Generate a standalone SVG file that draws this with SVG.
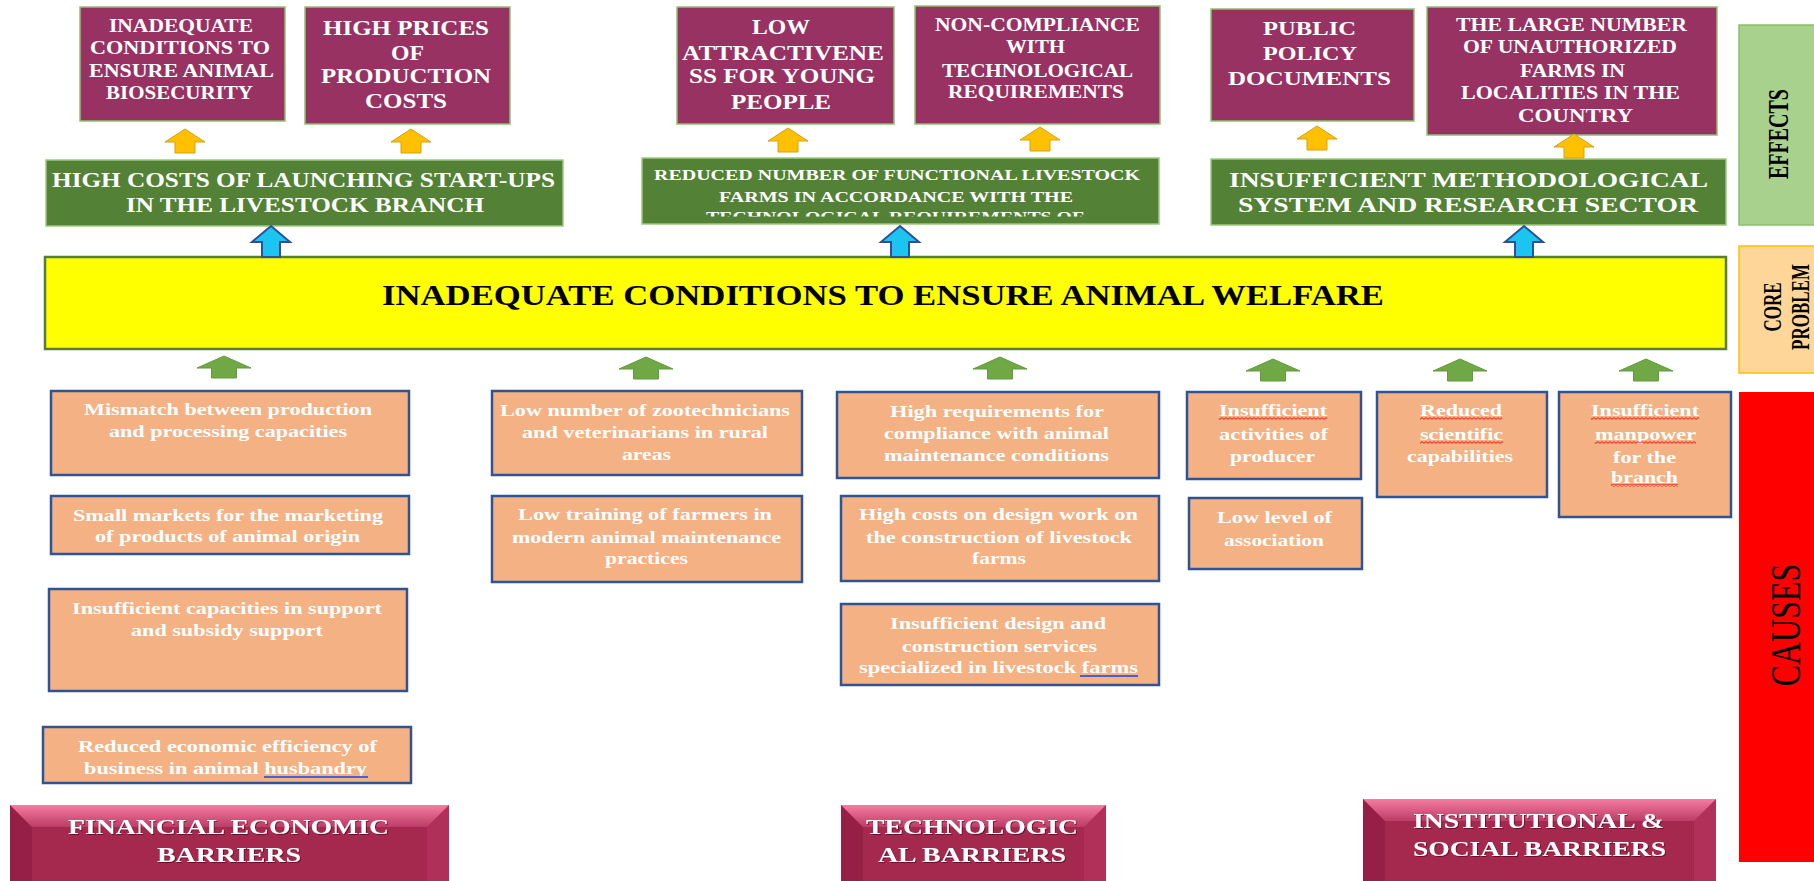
<svg xmlns="http://www.w3.org/2000/svg" width="1814" height="881" viewBox="0 0 1814 881">
  <defs>
    <style>
      text { font-family: 'Liberation Serif', 'Times New Roman', serif; font-weight: bold; }
      .eff rect { fill: #973263; stroke: #8dc26f; stroke-width: 1.5; }
      .eff text { fill: #ffffff; }
      .mid rect { fill: #538135; stroke: #9dc97f; stroke-width: 1.5; }
      .mid text { fill: #ffffff; }
      .core rect { fill: #ffff00; stroke: #5a7d36; stroke-width: 2.5; }
      .core text { fill: #000000; font-size: 30px; }
      .cause rect { fill: #f4b183; stroke: #2f5496; stroke-width: 2.5; }
      .cause text { fill: #ffffff; font-size: 17px; }
      .cause rect.squig { fill: url(#squig); stroke: none; }
      .barrier .face { fill: #a5284f; }
      .barrier .left { fill: #951f47; }
      .barrier .right { fill: #b0305a; }
      .barrier .top { fill: url(#bevTop); }
      .barrier text { fill: #ffffff; font-size: 22px; filter: url(#tshadow); }
      .label text { text-anchor: middle; }
      .uline { stroke: #4a5fd0; stroke-width: 2; }
      .arrY { fill: #ffc000; stroke: #d4a017; stroke-width: 1; }
      .arrB { fill: #1bc5f0; stroke: #2e4f9a; stroke-width: 2; }
      .arrG { fill: #6fa844; stroke: #639a3c; stroke-width: 1; }
    </style>
    <linearGradient id="bevTop" x1="0" y1="0" x2="0" y2="1">
      <stop offset="0" stop-color="#f57ca2"/>
      <stop offset="1" stop-color="#bc3c65"/>
    </linearGradient>
    <pattern id="squig" patternUnits="userSpaceOnUse" width="4" height="3">
      <path d="M0,2.4 L2,0.6 L4,2.4" fill="none" stroke="#e01010" stroke-width="1"/>
    </pattern>
    <filter id="tshadow" x="-5%" y="-20%" width="110%" height="140%">
      <feDropShadow dx="1" dy="1" stdDeviation="0.6" flood-color="#3a0010" flood-opacity="0.6"/>
    </filter>
    <clipPath id="g2clip">
      <rect x="642" y="158" width="517" height="58.5"/>
    </clipPath>
    <!-- block arrows, tip at the origin, pointing up -->
    <path id="arrowY" d="M0,0 L20,13 L10,13 L10,24 L-10,24 L-10,13 L-20,13 Z"/>
    <path id="arrowB" d="M0,0 L19,16 L9,16 L9,31 L-9,31 L-9,16 L-19,16 Z"/>
    <path id="arrowG" d="M0,0 L27,12 L12.5,12 L12.5,22 L-12.5,22 L-12.5,12 L-27,12 Z"/>
  </defs>

  <rect x="0" y="0" width="1814" height="881" fill="#ffffff"/>

  <!-- ===== effects ===== -->
  <g id="effect-biosecurity" class="eff">
    <rect x="80" y="7" width="205" height="114"/>
    <text x="109" y="32" font-size="19" textLength="144" lengthAdjust="spacingAndGlyphs">INADEQUATE</text>
    <text x="90" y="54" font-size="19" textLength="180" lengthAdjust="spacingAndGlyphs">CONDITIONS TO</text>
    <text x="89" y="77" font-size="19" textLength="185" lengthAdjust="spacingAndGlyphs">ENSURE ANIMAL</text>
    <text x="106" y="99" font-size="19" textLength="147" lengthAdjust="spacingAndGlyphs">BIOSECURITY</text>
  </g>
  <g id="effect-prices" class="eff">
    <rect x="305" y="7" width="205" height="117"/>
    <text x="323" y="35" font-size="20" textLength="166" lengthAdjust="spacingAndGlyphs">HIGH PRICES</text>
    <text x="391" y="60" font-size="20" textLength="33" lengthAdjust="spacingAndGlyphs">OF</text>
    <text x="321" y="83" font-size="20" textLength="170" lengthAdjust="spacingAndGlyphs">PRODUCTION</text>
    <text x="365" y="108" font-size="20" textLength="82" lengthAdjust="spacingAndGlyphs">COSTS</text>
  </g>
  <g id="effect-young" class="eff">
    <rect x="677" y="7" width="217" height="117"/>
    <text x="752" y="34" font-size="20" textLength="58" lengthAdjust="spacingAndGlyphs">LOW</text>
    <text x="682" y="60" font-size="20" textLength="202" lengthAdjust="spacingAndGlyphs">ATTRACTIVENE</text>
    <text x="689" y="83" font-size="20" textLength="186" lengthAdjust="spacingAndGlyphs">SS FOR YOUNG</text>
    <text x="731" y="109" font-size="20" textLength="100" lengthAdjust="spacingAndGlyphs">PEOPLE</text>
  </g>
  <g id="effect-noncompliance" class="eff">
    <rect x="915" y="6" width="245" height="118"/>
    <text x="935" y="31" font-size="18" textLength="205" lengthAdjust="spacingAndGlyphs">NON-COMPLIANCE</text>
    <text x="1006" y="53" font-size="18" textLength="59" lengthAdjust="spacingAndGlyphs">WITH</text>
    <text x="942" y="77" font-size="18" textLength="191" lengthAdjust="spacingAndGlyphs">TECHNOLOGICAL</text>
    <text x="948" y="98" font-size="18" textLength="176" lengthAdjust="spacingAndGlyphs">REQUIREMENTS</text>
  </g>
  <g id="effect-policy" class="eff">
    <rect x="1211" y="9" width="203" height="112"/>
    <text x="1263" y="35" font-size="19" textLength="93" lengthAdjust="spacingAndGlyphs">PUBLIC</text>
    <text x="1263" y="60" font-size="19" textLength="94" lengthAdjust="spacingAndGlyphs">POLICY</text>
    <text x="1228" y="85" font-size="19" textLength="163" lengthAdjust="spacingAndGlyphs">DOCUMENTS</text>
  </g>
  <g id="effect-unauthorized" class="eff">
    <rect x="1427" y="7" width="290" height="128"/>
    <text x="1456" y="31" font-size="18" textLength="231" lengthAdjust="spacingAndGlyphs">THE LARGE NUMBER</text>
    <text x="1463" y="53" font-size="18" textLength="214" lengthAdjust="spacingAndGlyphs">OF UNAUTHORIZED</text>
    <text x="1520" y="77" font-size="18" textLength="105" lengthAdjust="spacingAndGlyphs">FARMS IN</text>
    <text x="1461" y="99" font-size="18" textLength="219" lengthAdjust="spacingAndGlyphs">LOCALITIES IN THE</text>
    <text x="1518" y="122" font-size="18" textLength="115" lengthAdjust="spacingAndGlyphs">COUNTRY</text>
  </g>

  <!-- ===== intermediate effects ===== -->
  <g id="mid-startups" class="mid">
    <rect x="46" y="160" width="517" height="66"/>
    <text x="52" y="187" font-size="20" textLength="503" lengthAdjust="spacingAndGlyphs">HIGH COSTS OF LAUNCHING START-UPS</text>
    <text x="126" y="212" font-size="20" textLength="358" lengthAdjust="spacingAndGlyphs">IN THE LIVESTOCK BRANCH</text>
  </g>
  <g id="mid-farms" class="mid">
    <rect x="642" y="158" width="517" height="66"/>
    <g clip-path="url(#g2clip)">
      <text x="654" y="180" font-size="14.5" textLength="486" lengthAdjust="spacingAndGlyphs">REDUCED NUMBER OF FUNCTIONAL LIVESTOCK</text>
      <text x="719" y="202" font-size="14.5" textLength="354" lengthAdjust="spacingAndGlyphs">FARMS IN ACCORDANCE WITH THE</text>
      <text x="706" y="222" font-size="14.5" textLength="378" lengthAdjust="spacingAndGlyphs">TECHNOLOGICAL REQUIREMENTS OF</text>
    </g>
  </g>
  <g id="mid-research" class="mid">
    <rect x="1211" y="159" width="515" height="66"/>
    <text x="1229" y="187" font-size="20" textLength="479" lengthAdjust="spacingAndGlyphs">INSUFFICIENT METHODOLOGICAL</text>
    <text x="1238" y="212" font-size="20" textLength="460" lengthAdjust="spacingAndGlyphs">SYSTEM AND RESEARCH SECTOR</text>
  </g>

  <!-- ===== core problem ===== -->
  <g id="core-problem" class="core">
    <rect x="45" y="257" width="1681" height="92"/>
    <text x="382" y="305" textLength="1002" lengthAdjust="spacingAndGlyphs">INADEQUATE CONDITIONS TO ENSURE ANIMAL WELFARE</text>
  </g>

  <!-- ===== causes ===== -->
  <g id="cause-mismatch" class="cause">
    <rect x="51" y="391" width="358" height="84"/>
    <text x="84" y="415" textLength="288" lengthAdjust="spacingAndGlyphs">Mismatch between production</text>
    <text x="109" y="437" textLength="238" lengthAdjust="spacingAndGlyphs">and processing capacities</text>
  </g>
  <g id="cause-markets" class="cause">
    <rect x="51" y="496" width="358" height="58"/>
    <text x="73" y="521" textLength="310" lengthAdjust="spacingAndGlyphs">Small markets for the marketing</text>
    <text x="95" y="542" textLength="265" lengthAdjust="spacingAndGlyphs">of products of animal origin</text>
  </g>
  <g id="cause-subsidy" class="cause">
    <rect x="49" y="589" width="358" height="102"/>
    <text x="72" y="614" textLength="310" lengthAdjust="spacingAndGlyphs">Insufficient capacities in support</text>
    <text x="131" y="636" textLength="192" lengthAdjust="spacingAndGlyphs">and subsidy support</text>
  </g>
  <g id="cause-efficiency" class="cause">
    <rect x="43" y="727" width="368" height="56"/>
    <text x="78" y="752" textLength="299" lengthAdjust="spacingAndGlyphs">Reduced economic efficiency of</text>
    <text x="84" y="774" textLength="283" lengthAdjust="spacingAndGlyphs">business in animal husbandry</text>
    <line class="uline" x1="264" y1="777" x2="368" y2="777"/>
  </g>
  <g id="cause-zootechnicians" class="cause">
    <rect x="492" y="391" width="310" height="84"/>
    <text x="500" y="416" textLength="290" lengthAdjust="spacingAndGlyphs">Low number of zootechnicians</text>
    <text x="522" y="438" textLength="246" lengthAdjust="spacingAndGlyphs">and veterinarians in rural</text>
    <text x="622" y="460" textLength="49" lengthAdjust="spacingAndGlyphs">areas</text>
  </g>
  <g id="cause-training" class="cause">
    <rect x="492" y="496" width="310" height="86"/>
    <text x="518" y="520" textLength="254" lengthAdjust="spacingAndGlyphs">Low training of farmers in</text>
    <text x="512" y="543" textLength="269" lengthAdjust="spacingAndGlyphs">modern animal maintenance</text>
    <text x="605" y="564" textLength="83" lengthAdjust="spacingAndGlyphs">practices</text>
  </g>
  <g id="cause-requirements" class="cause">
    <rect x="837" y="392" width="322" height="86"/>
    <text x="890" y="417" textLength="214" lengthAdjust="spacingAndGlyphs">High requirements for</text>
    <text x="884" y="439" textLength="225" lengthAdjust="spacingAndGlyphs">compliance with animal</text>
    <text x="884" y="461" textLength="225" lengthAdjust="spacingAndGlyphs">maintenance conditions</text>
  </g>
  <g id="cause-design-costs" class="cause">
    <rect x="841" y="496" width="318" height="85"/>
    <text x="859" y="520" textLength="279" lengthAdjust="spacingAndGlyphs">High costs on design work on</text>
    <text x="866" y="543" textLength="266" lengthAdjust="spacingAndGlyphs">the construction of livestock</text>
    <text x="972" y="564" textLength="54" lengthAdjust="spacingAndGlyphs">farms</text>
  </g>
  <g id="cause-design-services" class="cause">
    <rect x="841" y="604" width="318" height="81"/>
    <text x="890" y="629" textLength="216" lengthAdjust="spacingAndGlyphs">Insufficient design and</text>
    <text x="902" y="652" textLength="195" lengthAdjust="spacingAndGlyphs">construction services</text>
    <text x="859" y="673" textLength="279" lengthAdjust="spacingAndGlyphs">specialized in livestock farms</text>
    <line class="uline" x1="1080" y1="676" x2="1138" y2="676"/>
  </g>
  <g id="cause-producer" class="cause">
    <rect x="1187" y="392" width="174" height="87"/>
    <text x="1219" y="416" textLength="108" lengthAdjust="spacingAndGlyphs">Insufficient</text>
    <rect class="squig" x="1219" y="417" width="108" height="3"/>
    <text x="1219" y="440" textLength="109" lengthAdjust="spacingAndGlyphs">activities of</text>
    <text x="1230" y="462" textLength="85" lengthAdjust="spacingAndGlyphs">producer</text>
  </g>
  <g id="cause-association" class="cause">
    <rect x="1189" y="498" width="173" height="71"/>
    <text x="1217" y="523" textLength="115" lengthAdjust="spacingAndGlyphs">Low level of</text>
    <text x="1224" y="546" textLength="100" lengthAdjust="spacingAndGlyphs">association</text>
  </g>
  <g id="cause-scientific" class="cause">
    <rect x="1377" y="392" width="170" height="105"/>
    <text x="1420" y="416" textLength="82" lengthAdjust="spacingAndGlyphs">Reduced</text>
    <rect class="squig" x="1420" y="417" width="82" height="3"/>
    <text x="1420" y="440" textLength="83" lengthAdjust="spacingAndGlyphs">scientific</text>
    <rect class="squig" x="1420" y="441" width="83" height="3"/>
    <text x="1407" y="462" textLength="106" lengthAdjust="spacingAndGlyphs">capabilities</text>
  </g>
  <g id="cause-manpower" class="cause">
    <rect x="1559" y="392" width="172" height="125"/>
    <text x="1591" y="416" textLength="108" lengthAdjust="spacingAndGlyphs">Insufficient</text>
    <rect class="squig" x="1591" y="417" width="108" height="3"/>
    <text x="1595" y="440" textLength="101" lengthAdjust="spacingAndGlyphs">manpower</text>
    <rect class="squig" x="1595" y="441" width="101" height="3"/>
    <text x="1613" y="463" textLength="63" lengthAdjust="spacingAndGlyphs">for the</text>
    <text x="1611" y="483" textLength="67" lengthAdjust="spacingAndGlyphs">branch</text>
    <rect class="squig" x="1611" y="484" width="67" height="3"/>
  </g>

  <!-- ===== barrier categories (bevelled) ===== -->
  <g id="barrier-financial" class="barrier">
    <rect class="face" x="10" y="805" width="439" height="90"/>
    <polygon class="left" points="10,805 32,827 32,895 10,895"/>
    <polygon class="right" points="449,805 427,827 427,895 449,895"/>
    <polygon class="top" points="10,805 449,805 427,827 32,827"/>
    <text x="68" y="834" textLength="321" lengthAdjust="spacingAndGlyphs">FINANCIAL ECONOMIC</text>
    <text x="157" y="862" textLength="144" lengthAdjust="spacingAndGlyphs">BARRIERS</text>
  </g>
  <g id="barrier-technological" class="barrier">
    <rect class="face" x="841" y="805" width="265" height="90"/>
    <polygon class="left" points="841,805 863,827 863,895 841,895"/>
    <polygon class="right" points="1106,805 1084,827 1084,895 1106,895"/>
    <polygon class="top" points="841,805 1106,805 1084,827 863,827"/>
    <text x="866" y="834" textLength="212" lengthAdjust="spacingAndGlyphs">TECHNOLOGIC</text>
    <text x="878" y="862" textLength="188" lengthAdjust="spacingAndGlyphs">AL BARRIERS</text>
  </g>
  <g id="barrier-institutional" class="barrier">
    <rect class="face" x="1363" y="799" width="353" height="96"/>
    <polygon class="left" points="1363,799 1385,821 1385,895 1363,895"/>
    <polygon class="right" points="1716,799 1694,821 1694,895 1716,895"/>
    <polygon class="top" points="1363,799 1716,799 1694,821 1385,821"/>
    <text x="1413" y="828" textLength="251" lengthAdjust="spacingAndGlyphs">INSTITUTIONAL &amp;</text>
    <text x="1413" y="856" textLength="253" lengthAdjust="spacingAndGlyphs">SOCIAL BARRIERS</text>
  </g>

  <!-- ===== level labels on the right ===== -->
  <g id="label-effects" class="label">
    <rect x="1739" y="25" width="80" height="200" fill="#a9d18e" stroke="#8fbf6c" stroke-width="1.5"/>
    <text transform="translate(1788 134) scale(1.5 1) rotate(-90)" font-size="20" fill="#000000">EFFECTS</text>
  </g>
  <g id="label-core" class="label">
    <rect x="1739" y="246" width="80" height="127" fill="#ffd699" stroke="#ffc000" stroke-width="1.5"/>
    <text transform="translate(1781 307) scale(1.5 1) rotate(-90)" font-size="17" fill="#000000">CORE</text>
    <text transform="translate(1809 307) scale(1.5 1) rotate(-90)" font-size="17" fill="#000000">PROBLEM</text>
  </g>
  <g id="label-causes" class="label">
    <rect x="1739" y="392" width="80" height="470" fill="#ff0000"/>
    <text transform="translate(1800 625) scale(1.3 1) rotate(-90)" font-size="32" style="font-weight:normal" fill="#000000">CAUSES</text>
  </g>

  <!-- ===== connectors ===== -->
  <g id="connectors">
    <use href="#arrowY" class="arrY" x="185" y="129"/>
    <use href="#arrowY" class="arrY" x="411" y="129"/>
    <use href="#arrowY" class="arrY" x="788" y="128"/>
    <use href="#arrowY" class="arrY" x="1040" y="127"/>
    <use href="#arrowY" class="arrY" x="1317" y="126"/>
    <use href="#arrowY" class="arrY" x="1574" y="134"/>
    <use href="#arrowB" class="arrB" x="271" y="226"/>
    <use href="#arrowB" class="arrB" x="900" y="226"/>
    <use href="#arrowB" class="arrB" x="1524" y="226"/>
    <use href="#arrowG" class="arrG" x="224" y="356"/>
    <use href="#arrowG" class="arrG" x="646" y="357"/>
    <use href="#arrowG" class="arrG" x="1000" y="357"/>
    <use href="#arrowG" class="arrG" x="1273" y="359"/>
    <use href="#arrowG" class="arrG" x="1460" y="359"/>
    <use href="#arrowG" class="arrG" x="1646" y="359"/>
  </g>
</svg>
